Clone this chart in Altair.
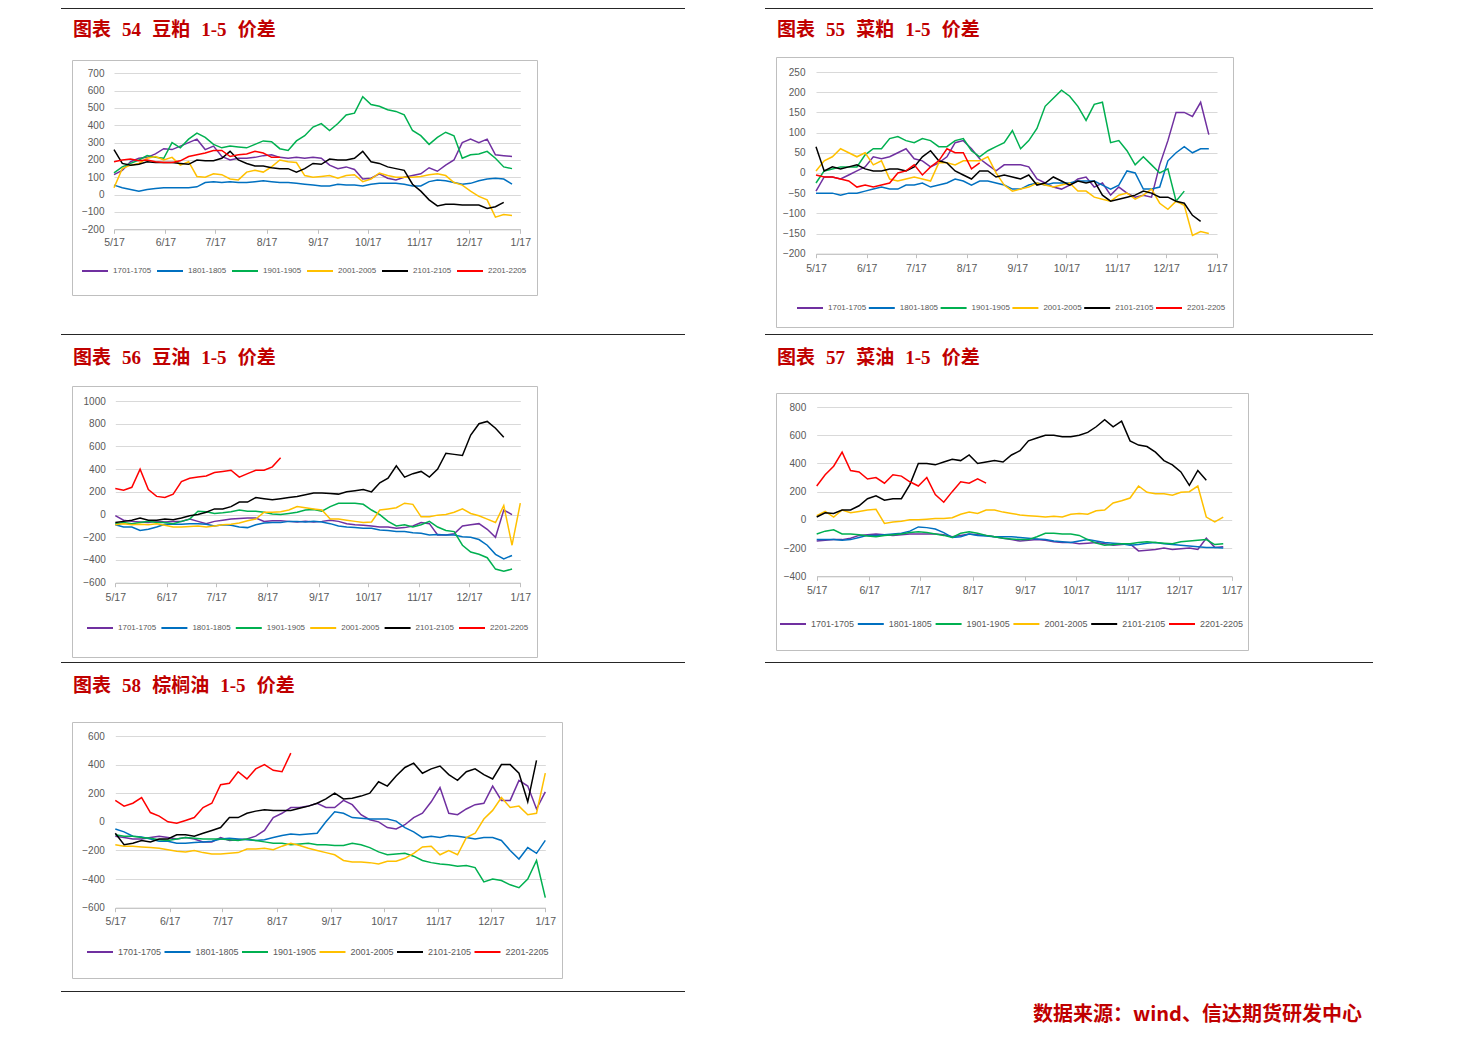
import altair as alt
import pandas as pd

# ---------------- data (one point every 5 days from 5/17) -------------
SERIES = ["1701-1705", "1801-1805", "1901-1905", "2001-2005", "2101-2105", "2201-2205"]
COLORS = ["#7030a0", "#0070c0", "#00b050", "#ffc000", "#000000", "#ff0000"]
START = "2016-05-17"
STEP = "5D"

# 图表54 豆粕
p54_1701 = [115, 140, 190, 210, 215, 235, 265, 260, 280, 300, 320, 260, 280, 220, 200, 210, 210, 215, 225, 230,
            215, 210, 215, 210, 215, 210, 170, 150, 160, 145, 90, 95, 120, 95, 85, 100, 110, 120, 155, 135,
            170, 200, 300, 320, 300, 320, 230, 225, 220]
p54_1801 = [55, 40, 30, 20, 30, 35, 40, 40, 40, 40, 45, 70, 75, 70, 75, 70, 70, 75, 80, 75,
            70, 70, 65, 60, 55, 50, 50, 60, 55, 55, 50, 60, 65, 65, 65, 60, 50, 50, 75, 85,
            80, 70, 60, 65, 80, 90, 95, 90, 60]
p54_1901 = [125, 160, 180, 200, 225, 215, 210, 300, 270, 320, 355, 330, 290, 270, 280, 275, 270, 290, 310, 305,
            265, 255, 310, 340, 390, 410, 370, 410, 460, 470, 565, 520, 510, 490, 480, 460, 370, 340, 290, 330,
            360, 340, 210, 230, 235, 250, 210, 160, 150]
p54_2001 = [40, 150, 170, 180, 210, 220, 200, 215, 170, 190, 105, 100, 120, 115, 90, 85, 130, 140, 130, 160,
            200, 190, 185, 110, 100, 105, 110, 95, 110, 115, 75, 90, 125, 110, 100, 100, 100, 105, 115, 120,
            110, 70, 55, 20, -10, -30, -130, -115, -120]
p54_2101 = [260, 180, 170, 175, 190, 185, 185, 185, 180, 175, 200, 195, 195, 210, 250, 200, 180, 165, 165, 155,
            150, 150, 130, 150, 180, 175, 205, 200, 200, 210, 250, 190, 180, 160, 150, 140, 60, 20, -30, -65,
            -55, -55, -60, -60, -60, -80, -70, -45]
p54_2201 = [190, 200, 205, 195, 200, 190, 185, 185, 195, 220, 230, 240, 255, 255, 220, 230, 235, 250, 240, 215, 215]

# 图表55 菜粕
p55_1701 = [-45, -10, -10, -15, -5, 5, 15, 40, 35, 40, 50, 60, 35, 30, 15, 25, 40, 75, 80, 60,
            35, 20, 5, 20, 20, 20, 15, -15, -25, -35, -40, -30, -15, -10, -35, -25, -55, -35, -50, -60,
            -55, -60, 20, 80, 150, 150, 140, 175, 95]
p55_1801 = [-50, -50, -50, -55, -50, -50, -45, -40, -35, -40, -40, -30, -30, -25, -35, -30, -25, -15, -20, -30,
            -20, -20, -25, -30, -40, -40, -30, -25, -30, -25, -25, -25, -20, -20, -20, -30, -40, -30, 5, 0,
            -40, -40, -35, 30, 50, 65, 50, 60, 60]
p55_1901 = [-25, 5, 10, 15, 15, 15, 45, 60, 60, 85, 90, 80, 75, 85, 80, 65, 65, 80, 85, 55,
            40, 55, 65, 75, 105, 60, 80, 110, 165, 185, 205, 190, 165, 130, 170, 175, 75, 80, 55, 20,
            40, 20, 0, 10, -70, -45]
p55_2001 = [5, 30, 40, 60, 50, 40, 50, 20, 30, -15, -20, -15, -10, -15, -20, 25, 25, 20, 30, 30,
            30, 40, 0, -30, -45, -40, -35, -25, -30, -35, -30, -25, -45, -45, -60, -65, -70, -55, -50, -65,
            -55, -40, -75, -90, -70, -80, -155, -145, -150]
p55_2101 = [65, 5, 15, 10, 15, 20, 10, 5, 5, 10, 10, 5, 15, 40, 55, 30, 25, 5, -5, -15,
            5, 5, -10, -5, -10, -15, -5, -30, -25, -10, -20, -30, -20, -25, -20, -55, -70, -65, -60, -55,
            -45, -50, -60, -60, -70, -75, -105, -120]
p55_2201 = [-5, -10, -10, -15, -20, -35, -30, -35, -30, -25, 0, 5, 20, -5, 15, 30, 60, 50, 50, 10, 25]

# 图表56 豆油
p56_1701 = [-10, -50, -60, -65, -70, -60, -65, -60, -60, -40, -60, -80, -60, -50, -40, -35, -30, -30, -60, -55,
            -55, -60, -65, -60, -65, -60, -50, -60, -80, -90, -95, -100, -110, -110, -120, -115, -100, -70, -80, -180,
            -180, -170, -100, -90, -80, -130, -200, 40, 0]
p56_1801 = [-90, -110, -110, -140, -130, -110, -85, -85, -85, -80, -80, -85, -100, -90, -95, -110, -115, -90, -75, -70,
            -70, -60, -60, -65, -60, -65, -80, -100, -110, -115, -120, -120, -135, -140, -150, -150, -160, -165, -180, -175,
            -180, -180, -195, -200, -220, -270, -350, -390, -360]
p56_1901 = [-80, -70, -80, -70, -60, -70, -70, -80, -60, -40, 30, 25, 10, 15, 25, 40, 30, 30, 20, 5,
            0, 10, 20, 40, 45, 30, 70, 100, 100, 100, 90, 40, 0, -60, -100, -90, -110, -90, -60, -110,
            -140, -150, -270, -330, -350, -380, -480, -500, -480]
p56_2001 = [-90, -80, -90, -85, -90, -80, -95, -110, -110, -105, -100, -110, -100, -90, -85, -75, -55, -40, 20, 20,
            25, 40, 70, 60, 50, 40, -40, -40, -50, -60, -70, -65, 40, 50, 60, 100, 90, -20, -20, -5,
            0, 20, 50, 10, -10, -40, -70, 80, -270, 100]
p56_2101 = [-70, -60, -50, -30, -50, -50, -40, -45, -30, -10, 0, 20, 50, 50, 70, 110, 110, 150, 140, 130,
            140, 150, 160, 175, 190, 190, 185, 180, 200, 210, 220, 200, 280, 320, 430, 330, 360, 380, 330, 400,
            540, 530, 520, 700, 800, 820, 760, 680]
p56_2201 = [230, 215, 240, 400, 220, 160, 150, 180, 290, 320, 330, 340, 370, 380, 390, 330, 360, 390, 390, 420, 500]

# 图表57 菜油
p57_1701 = [-150, -145, -140, -140, -130, -110, -105, -100, -105, -110, -105, -100, -100, -100, -100, -105, -120, -110, -100, -105,
            -110, -120, -130, -140, -150, -145, -140, -145, -155, -160, -160, -170, -165, -160, -170, -180, -175, -170, -220, -215,
            -210, -200, -210, -205, -200, -210, -130, -195, -190]
p57_1801 = [-140, -140, -140, -145, -140, -125, -110, -110, -105, -100, -95, -80, -50, -55, -65, -90, -125, -120, -100, -110,
            -115, -120, -120, -120, -125, -130, -135, -140, -150, -155, -160, -150, -140, -150, -160, -165, -170, -180, -175, -165,
            -160, -170, -175, -180, -185, -190, -195, -195, -200]
p57_1901 = [-100, -80, -70, -100, -100, -105, -115, -120, -110, -105, -100, -90, -85, -90, -100, -110, -125, -95, -85, -95,
            -110, -120, -130, -135, -140, -140, -120, -95, -95, -100, -100, -110, -140, -165, -180, -175, -170, -170, -160, -155,
            -160, -165, -170, -155, -150, -145, -140, -175, -170]
p57_2001 = [30, 60, 20, 70, 50, 60, 70, 75, -25, -15, -10, 0, 0, 5, 10, 10, 15, 40, 55, 45,
            70, 70, 55, 45, 35, 30, 25, 20, 25, 20, 40, 45, 40, 65, 70, 120, 135, 155, 240, 195,
            185, 185, 175, 195, 200, 240, 20, -15, 20]
p57_2101 = [20, 50, 45, 70, 70, 100, 150, 170, 140, 150, 150, 250, 400, 400, 390, 410, 430, 420, 460, 400,
            410, 420, 410, 460, 490, 560, 580, 600, 600, 590, 590, 600, 620, 660, 710, 660, 700, 560, 530, 520,
            480, 420, 390, 340, 245, 350, 280]
p57_2201 = [240, 320, 380, 480, 350, 340, 290, 300, 260, 320, 310, 270, 240, 300, 180, 125, 200, 270, 260, 290, 260]

# 图表58 棕榈油
p58_1701 = [-100, -110, -120, -120, -110, -100, -110, -120, -110, -120, -140, -140, -110, -130, -125, -120, -100,
            -60, 30, 60, 100, 100, 110, 130, 100,
            100, 150, 120, 50, 15, 0, -40, -50, -20, 30, 60,
            140, 240, 60, 50, 90, 120, 130, 250, 150, 150, 290, 250, 90, 210]
p58_1801 = [-50, -70, -100, -105, -120, -135, -135, -150, -150, -145, -140, -135, -120, -115, -120, -125, -130, -125, -110, -95,
            -85, -90, -85, -80, 0, 70, 60, 30, 25, 20, 20, 20, 5, -40, -70, -110, -100, -110, -95, -100,
            -110, -120, -110, -110, -130, -200, -260, -180, -220, -130]
p58_1901 = [-90, -100, -100, -110, -115, -125, -130, -120, -110, -115, -120, -120, -120, -125, -130, -120, -130, -140, -150, -150,
            -160, -155, -150, -160, -160, -165, -165, -150, -160, -180, -210, -230, -225, -220, -240, -270, -285, -295, -300, -310,
            -305, -320, -420, -400, -410, -440, -460, -400, -270, -530]
p58_2001 = [-160, -170, -170, -175, -180, -185, -195, -205, -210, -200, -215, -225, -225, -220, -215, -190, -190, -185, -195, -170,
            -150, -165, -185, -200, -215, -230, -270, -280, -280, -285, -295, -275, -275, -255, -220, -175, -170, -230, -200, -230,
            -110, -80, 20, 80, 170, 100, 110, 50, 60, 340]
p58_2101 = [-80, -160, -150, -130, -140, -120, -120, -90, -90, -100, -80, -60, -40, 30, 30, 60, 75, 85, 80, 80,
            80, 95, 110, 130, 160, 200, 160, 165, 180, 200, 280, 250, 320, 380, 410, 340, 370, 390, 330, 290,
            350, 370, 330, 300, 400, 400, 340, 140, 430]
p58_2201 = [150, 110, 130, 170, 65, 40, 0, -10, 10, 30, 100, 130, 260, 270, 350, 300, 370, 400, 360, 350, 480]

MONTH_TICKS = [(2016, 5), (2016, 6), (2016, 7), (2016, 8), (2016, 9), (2016, 10), (2016, 11), (2016, 12), (2017, 1)]

SP = "\u00a0\u2004"
TITLES = [f"图表{SP}54{SP}豆粕{SP}1-5{SP}价差",
          f"图表{SP}55{SP}菜粕{SP}1-5{SP}价差",
          f"图表{SP}56{SP}豆油{SP}1-5{SP}价差",
          f"图表{SP}57{SP}菜油{SP}1-5{SP}价差",
          f"图表{SP}58{SP}棕榈油{SP}1-5{SP}价差"]
FOOTER = "数据来源：wind、信达期货研发中心"

# ---------------- layout / style ----------------
W, H = 1440, 1030
FONT = "Liberation Sans"
TITLE_FONT = "Liberation Serif, Noto Sans CJK SC"
RED = "#c00000"
ONE = pd.DataFrame({"k": [0]})


def long_df(lists):
    rows = []
    for name, vals in zip(SERIES, lists):
        dates = pd.date_range(START, periods=len(vals), freq=STEP)
        for d, v in zip(dates, vals):
            rows.append({"date": d, "value": v, "series": name})
    return pd.DataFrame(rows)


TICKS = [alt.DateTime(year=y, month=m, date=17) for y, m in MONTH_TICKS]
XDOM = [TICKS[0], TICKS[-1]]


def panel(lists, x0, x1, ybot, ytop, ymin, ymax, ystep, legx, legy, ylp, xlp, colpad, legfont):
    df = long_df(lists)
    return alt.Chart(df).mark_line(strokeWidth=1.5).encode(
        x=alt.X("date:T",
                scale=alt.Scale(domain=XDOM, range=[x0, x1], nice=False),
                axis=alt.Axis(orient="bottom", offset=ybot - H, values=TICKS, format="%-m/%-d",
                              grid=False, ticks=True, tickSize=4, tickColor="#bfbfbf",
                              domainColor="#bfbfbf", labelColor="#595959", labelFontSize=10.5,
                              labelFont=FONT, labelPadding=xlp, labelFlush=False,
                              labelOverlap=False, title=None)),
        y=alt.Y("value:Q",
                scale=alt.Scale(domain=[ymin, ymax], range=[ybot, ytop], nice=False, zero=False),
                axis=alt.Axis(orient="left", offset=-x0, values=list(range(ymin, ymax + 1, ystep)),
                              format="d", grid=True, gridColor="#d9d9d9", gridWidth=1, ticks=False,
                              domain=False, labelColor="#595959", labelFontSize=10, labelFont=FONT,
                              labelPadding=ylp, title=None)),
        color=alt.Color("series:N",
                        scale=alt.Scale(domain=SERIES, range=COLORS),
                        legend=alt.Legend(orient="none", legendX=legx, legendY=legy,
                                          direction="horizontal", columns=6, symbolType="stroke",
                                          symbolSize=676, symbolStrokeWidth=2, clipHeight=12,
                                          labelFont=FONT, labelFontSize=legfont, labelColor="#595959",
                                          labelOffset=4, columnPadding=colpad, padding=0, title=None)),
    )


def rule(x1, x2, y):
    return alt.Chart(ONE).mark_rule(color="#262626", strokeWidth=1).encode(
        x=alt.value(x1), x2=alt.value(x2), y=alt.value(y))


def box(x1, y1, x2, y2):
    return alt.Chart(ONE).mark_rect(filled=False, stroke="#bfbfbf", strokeWidth=1).encode(
        x=alt.value(x1), x2=alt.value(x2), y=alt.value(y1), y2=alt.value(y2))


def label(txt, x, y, size, align="left", font=TITLE_FONT):
    return alt.Chart(ONE).mark_text(align=align, baseline="middle", fontSize=size, font=font,
                                    fontWeight="bold", color=RED).encode(
        x=alt.value(x), y=alt.value(y), text=alt.value(txt))


layers = [
    rule(53, 677, 0.5), rule(757, 1365, 0.5),
    rule(53, 677, 326.5), rule(757, 1365, 326.5),
    rule(53, 677, 654.5), rule(757, 1365, 654.5),
    rule(53, 677, 983.5),
    box(64.5, 52.5, 529.5, 287.5), box(768.5, 49.5, 1225.5, 319.5),
    box(64.5, 378.5, 529.5, 649.5), box(768.5, 385.5, 1240.5, 642.5),
    box(64.5, 714.5, 554.5, 970.5),
    label(TITLES[0], 65, 22, 19), label(TITLES[1], 769, 22, 19),
    label(TITLES[2], 65, 350, 19), label(TITLES[3], 769, 350, 19),
    label(TITLES[4], 65, 678, 19),
    label(FOOTER, 1354, 1007, 20, align="right", font="Noto Sans CJK SC"),
    panel([p54_1701, p54_1801, p54_1901, p54_2001, p54_2101, p54_2201],
          106, 512.3, 221.3, 65.3, -200, 700, 100, 73, 257, 10, 4, 4, 8),
    panel([p55_1701, p55_1801, p55_1901, p55_2001, p55_2101, p55_2201],
          808, 1209, 245.7, 64, -200, 250, 50, 788, 294, 11, 6, 0.8, 8),
    panel([p56_1701, p56_1801, p56_1901, p56_2001, p56_2101, p56_2201],
          107.3, 512.3, 574.7, 393, -600, 1000, 200, 78, 614, 10, 6, 3.4, 8),
    panel([p57_1701, p57_1801, p57_1901, p57_2001, p57_2101, p57_2201],
          808.7, 1223.7, 568.3, 399, -400, 800, 200, 771, 610, 11, 5, 1.8, 9),
    panel([p58_1701, p58_1801, p58_1901, p58_2001, p58_2101, p58_2201],
          107.3, 537.3, 899.7, 728, -600, 600, 200, 78, 938, 11, 5, 1.5, 9),
]

chart = alt.layer(*layers).resolve_scale(
    x="independent", y="independent", color="independent"
).properties(
    width=W, height=H, autosize=alt.AutoSizeParams(type="none"), padding=0, background="white"
).configure_view(strokeWidth=0)

chart.save("out.html", embed_options={"renderer": "svg", "actions": False})
